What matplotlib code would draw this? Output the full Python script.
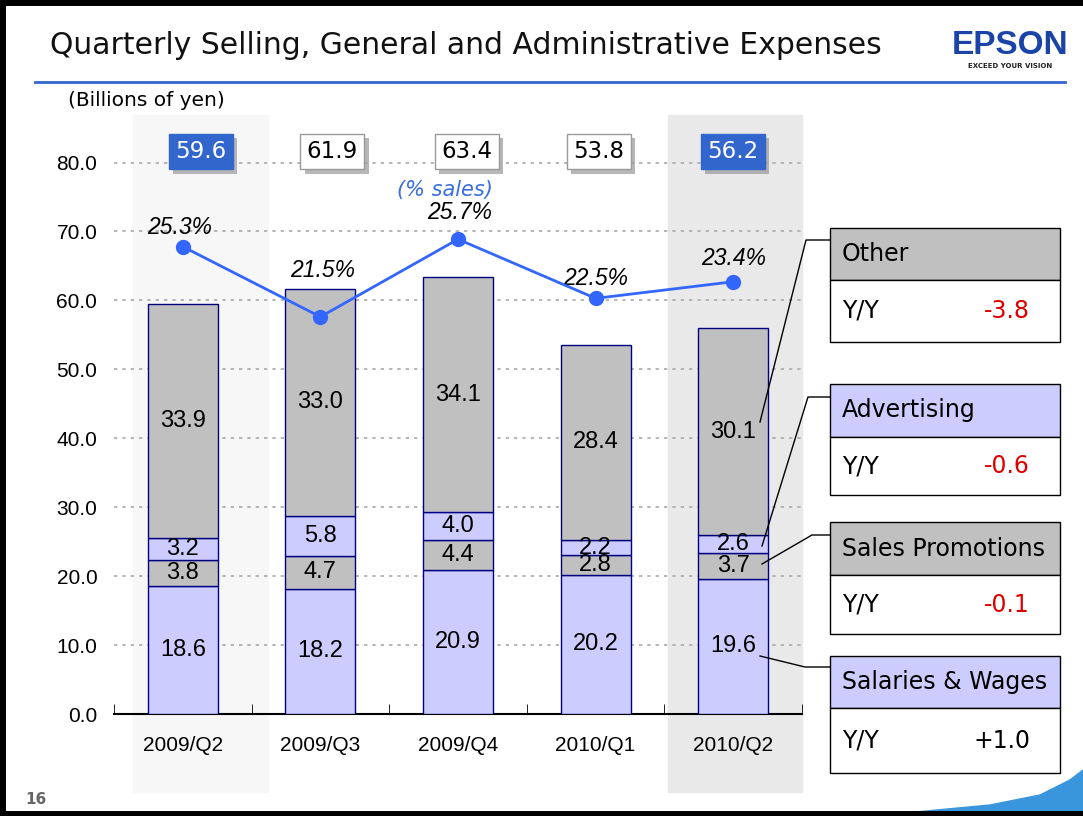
import matplotlib
matplotlib.use("Agg")
import matplotlib.pyplot as plt
import matplotlib.patheffects as pe
from matplotlib.patches import Rectangle, Polygon
from matplotlib.lines import Line2D
import numpy as np

quarters = ["2009/Q2", "2009/Q3", "2009/Q4", "2010/Q1", "2010/Q2"]
salaries = [18.6, 18.2, 20.9, 20.2, 19.6]
promotions = [3.8, 4.7, 4.4, 2.8, 3.7]
advertising = [3.2, 5.8, 4.0, 2.2, 2.6]
other = [33.9, 33.0, 34.1, 28.4, 30.1]
totals = [59.6, 61.9, 63.4, 53.8, 56.2]
pct_sales = [25.3, 21.5, 25.7, 22.5, 23.4]
highlight = [True, False, False, False, True]

yy_labels = ["Other", "Advertising", "Sales Promotions", "Salaries & Wages"]
yy_values = ["-3.8", "-0.6", "-0.1", "+1.0"]

LAV = "#ccccff"
GRAY = "#c0c0c0"
EDGE = "#000080"
BLUE = "#3366ff"
BOXBLUE = "#3366cc"
W, H = 1083, 816

fig = plt.figure(figsize=(W / 100, H / 100), dpi=100)


def fx(x):
    return x / W


def fy(y):
    return 1 - y / H


# shaded columns behind the highlighted quarters
for x0, x1, c in [(133, 268, "#f7f7f7"), (668, 802, "#e9e9e9")]:
    fig.patches.append(Rectangle((fx(x0), fy(792)), fx(x1 - x0), (792 - 115) / H,
                                 transform=fig.transFigure, color=c, zorder=-5))

ax = fig.add_axes([fx(114), fy(714), fx(802 - 114), (714 - 115) / H])
ax.set_zorder(2)
ax.set_facecolor("none")
x = np.arange(len(quarters))
ymax = 86.9
ax.set_xlim(-0.5, 4.5)
ax.set_ylim(0, ymax)

bw = 0.51
bottom = np.zeros(len(x))
segments = [(salaries, LAV), (promotions, GRAY), (advertising, LAV), (other, GRAY)]
for vals, col in segments:
    vals = np.array(vals)
    ax.bar(x, vals, bw, bottom=bottom, color=col, edgecolor=EDGE, linewidth=1, zorder=3)
    for xi, b, v in zip(x, bottom, vals):
        ax.text(xi, b + v / 2, f"{v:.1f}", ha="center", va="center",
                fontsize=17, family="Liberation Sans", zorder=5)
    bottom += vals

ax.set_yticks(np.arange(0, 81, 10))
ax.set_yticklabels([f"{v:.1f}" for v in np.arange(0, 81, 10)],
                   fontsize=15, family="Liberation Sans")
ax.yaxis.grid(True, linestyle=(0, (2, 3)), color="#aaaaaa", linewidth=1.2, zorder=1)
ax.set_axisbelow(True)
ax.tick_params(axis="y", length=0, pad=12)
ax.set_xticks(x)
ax.set_xticklabels(quarters, fontsize=15, family="Liberation Sans")
ax.tick_params(axis="x", length=0, pad=16)
ax.set_xticks(np.arange(-0.5, 4.6, 1), minor=True)
ax.tick_params(axis="x", which="minor", direction="in", length=7, color="black")
for s in ["top", "right", "left"]:
    ax.spines[s].set_visible(False)
ax.spines["bottom"].set_linewidth(1.5)

# total boxes (drawn slightly right of the bar centres, as in the slide)
box_shift = [18, 12, 9, 3, 0]  # pixels
for xi, t, hl, sh in zip(x, totals, highlight, box_shift):
    txt = ax.annotate(f"{t:.1f}", (xi, 81.6), xytext=(sh * 0.72, 0),
                      textcoords="offset points", ha="center", va="center",
                      fontsize=16.5, color="white" if hl else "black", zorder=6,
                      bbox=dict(boxstyle="square,pad=0.28", fc=BOXBLUE if hl else "white",
                                ec=BOXBLUE if hl else "#999999", lw=1))
    txt.get_bbox_patch().set_path_effects([
        pe.SimplePatchShadow(offset=(3, -3), shadow_rgbFace="#999999", alpha=0.7),
        pe.Normal()])

# % sales line on a secondary scale
ax2 = ax.twinx()
ax2.set_zorder(3)
ax2.set_ylim(0, ymax / 2.68)
ax2.axis("off")
ax2.plot(x, pct_sales, color=BLUE, lw=2, marker="o", ms=10, zorder=6)
offsets = [(-3, 19), (2, 46), (2, 27), (0, 20), (0, 23)]
for xi, p, (dx, dy) in zip(x, pct_sales, offsets):
    ax2.annotate(f"{p:.1f}%", (xi, p), xytext=(dx * 0.72, dy * 0.72),
                 textcoords="offset points", ha="center", va="center",
                 fontsize=16.5, style="italic", family="Liberation Sans")
fig.text(fx(445), fy(190), "(% sales)", ha="center", va="center", fontsize=15,
         style="italic", color="#3a6ee0", zorder=10)

# title area
fig.text(fx(50), fy(46), "Quarterly Selling, General and Administrative Expenses",
         ha="left", va="center", fontsize=21.5, color="#111111")
fig.add_artist(Line2D([fx(35), fx(1065)], [fy(82), fy(82)], color=BOXBLUE, lw=2))
fig.text(fx(1010), fy(45), "EPSON", ha="center", va="center", fontsize=24,
         weight="bold", color="#1a44a8", family="Liberation Sans")
fig.text(fx(1010), fy(66), "EXCEED YOUR VISION", ha="center", va="center",
         fontsize=5, weight="bold", color="#222222")
fig.text(fx(68), fy(101), "(Billions of yen)", ha="left", va="center", fontsize=14.5)
fig.text(fx(25), fy(800), "16", ha="left", va="center", fontsize=11,
         weight="bold", color="#666666")

# Y/Y boxes on the right
boxes = [(228, 280, 342, GRAY), (384, 437, 495, LAV),
         (522, 575, 634, GRAY), (656, 708, 773, LAV)]
for (top, mid, bot, col), lab, val in zip(boxes, yy_labels, yy_values):
    fig.patches.append(Rectangle((fx(830), fy(mid)), fx(230), (mid - top) / H,
                                 transform=fig.transFigure, fc=col, ec="black", lw=1))
    fig.patches.append(Rectangle((fx(830), fy(bot)), fx(230), (bot - mid) / H,
                                 transform=fig.transFigure, fc="white", ec="black", lw=1))
    fig.text(fx(842), fy((top + mid) / 2), lab, ha="left", va="center", fontsize=17)
    fig.text(fx(842), fy((mid + bot) / 2), "Y/Y", ha="left", va="center", fontsize=17)
    fig.text(fx(1030), fy((mid + bot) / 2), val, ha="right", va="center", fontsize=17,
             color="#dd0000" if val.startswith("-") else "black")

# leader lines from the 2010/Q2 bar to the boxes
leaders = [[(760, 422), (806, 240), (830, 240)],
           [(762, 546), (808, 397), (830, 397)],
           [(762, 564), (812, 535), (830, 535)],
           [(760, 656), (805, 667), (830, 667)]]
for pts in leaders:
    xs, ys = zip(*pts)
    fig.add_artist(Line2D([fx(v) for v in xs], [fy(v) for v in ys], color="black",
                          lw=1, zorder=10))

# bottom-right swoosh
sw = [(905, 813), (990, 805), (1040, 795), (1070, 780), (1083, 770), (1083, 816), (905, 816)]
fig.patches.append(Polygon([(fx(a), fy(b)) for a, b in sw], closed=True,
                           transform=fig.transFigure, color="#3a96dc", zorder=1))

# slide frame
for xs, ys, lw in [([0, 1], [fy(2), fy(2)], 5), ([fx(2), fx(2)], [0, 1], 5),
                   ([0, 1], [fy(814), fy(814)], 5)]:
    fig.add_artist(Line2D(xs, ys, color="black", lw=lw, zorder=10))

fig.savefig("out.png", dpi=100)
